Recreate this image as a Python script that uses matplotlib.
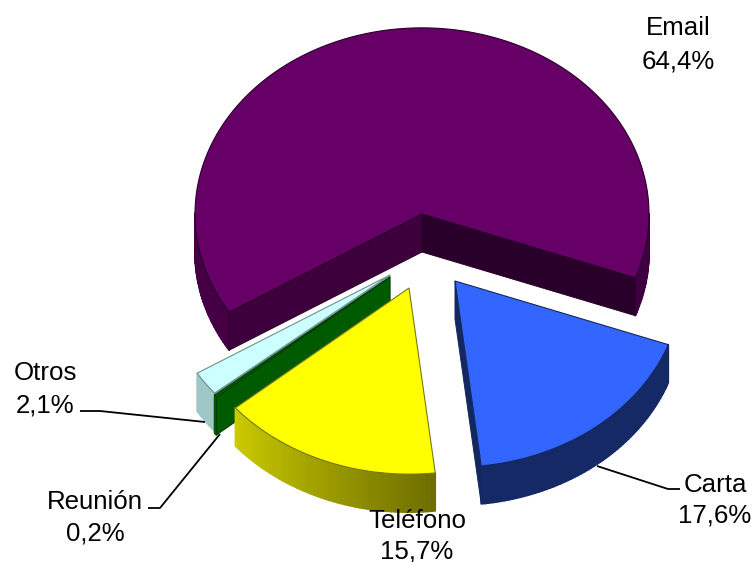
import numpy as np
import matplotlib
matplotlib.use("Agg")
import matplotlib.pyplot as plt

# ── Data ──────────────────────────────────────────────────────────────────────

LABELS = ["Email", "Otros", "Reunión", "Teléfono", "Carta"]
SHARES = [64.4, 2.1, 0.2, 15.7, 17.6]
SHARE_TEXT = ["64,4%", "2,1%", "0,2%", "15,7%", "17,6%"]

# ── Style and layout (pixel coordinates of the picture) ───────────────────────

W, H = 755, 562
CENTRE = (422, 214)
RX = 227
SQUASH = 0.82
DEPTH = 38
START_ANGLE = -20

TOP_COLOURS = ["#660066", "#CCFFFF", "#006600", "#FFFF00", "#3366FF"]
EDGE_COLOURS = ["#2a002a", "#6f8f8f", "#003c00", "#77771f", "#14285f"]
# how far each slice is pulled out of the pie
OFFSETS = [(0, 0), (-32, 61), (-32, 63), (-13, 74), (33, 67)]
# wall brightness at the low and high angle of the slice
WALL_SHADE = [(0.62, 0.68), (0.78, 0.78), (0.85, 0.85), (0.8, 0.43), (0.4, 0.4)]
# brightness of the cut faces at the start and the end of the slice
FACE_SHADE = [(0.4, 0.6), (0.7, 0.7), (0.88, 0.88), (0.4, 0.4), (0.38, 0.38)]
DRAW_ORDER = [0, 1, 2, 4, 3]

# x centre, baseline of the name, baseline of the share
TEXT_POS = [(678, 35, 68), (45, 380, 413), (95, 509, 541), (417, 528, 558), (715, 492, 523)]
LEADERS = {
    "Otros": [(80, 411), (100, 411), (205, 422)],
    "Reunión": [(148, 508), (160, 508), (220, 434)],
    "Carta": [(597, 466), (668, 489), (680, 489)],
}

plt.rcParams["font.family"] = ["Liberation Sans", "DejaVu Sans"]


def shaded(colour, factor):
    rgb = np.array(matplotlib.colors.to_rgb(colour))
    return tuple(rgb * factor)


def rim(cx, cy, angles, drop=0):
    rad = np.radians(angles)
    return cx + RX * np.cos(rad), cy - RX * SQUASH * np.sin(rad) + drop


def draw_face(ax, cx, cy, angle, colour, edge):
    x, y = rim(cx, cy, np.array([angle]))
    xs = [cx, x[0], x[0], cx]
    ys = [cy, y[0], y[0] + DEPTH, cy + DEPTH]
    ax.fill(xs, ys, facecolor=colour, edgecolor=edge, linewidth=0.7)


def draw_wall(ax, cx, cy, a0, a1, colour, shades):
    # outer wall cut into thin strips, only the part facing the viewer
    steps = max(2, int(a1 - a0))
    edges = np.linspace(a0, a1, steps + 1)
    for a, b in zip(edges[:-1], edges[1:]):
        mid = (a + b) / 2
        if np.sin(np.radians(mid)) >= 0:
            continue
        t = (mid - a0) / (a1 - a0)
        tone = shaded(colour, shades[0] + t * (shades[1] - shades[0]))
        x, y = rim(cx, cy, np.array([a, b]))
        ax.fill([x[0], x[1], x[1], x[0]],
                [y[0], y[1], y[1] + DEPTH, y[0] + DEPTH],
                facecolor=tone, edgecolor=tone, linewidth=1.2, joinstyle="round")


def draw_slice(ax, i, a0, a1):
    cx = CENTRE[0] + OFFSETS[i][0]
    cy = CENTRE[1] + OFFSETS[i][1]
    colour = TOP_COLOURS[i]
    edge = EDGE_COLOURS[i]

    draw_wall(ax, cx, cy, a0, a1, colour, WALL_SHADE[i])

    # cut faces, each one shows only if it turns towards the viewer
    if np.cos(np.radians(a0)) > 0:
        draw_face(ax, cx, cy, a0, shaded(colour, FACE_SHADE[i][0]), edge)
    if np.cos(np.radians(a1)) < 0:
        draw_face(ax, cx, cy, a1, shaded(colour, FACE_SHADE[i][1]), edge)

    angles = np.linspace(a0, a1, 200)
    x, y = rim(cx, cy, angles)
    ax.fill(np.r_[cx, x], np.r_[cy, y], facecolor=colour, edgecolor=edge, linewidth=0.8)


fig = plt.figure(figsize=(W / 100, H / 100), dpi=100)
ax = fig.add_axes([0, 0, 1, 1])
ax.set_xlim(0, W)
ax.set_ylim(H, 0)
ax.axis("off")

# angles follow the shares, counter-clockwise from the start of Email
sweeps = np.array(SHARES) / sum(SHARES) * 360
ends = START_ANGLE + np.cumsum(sweeps)
starts = ends - sweeps

for i in DRAW_ORDER:
    draw_slice(ax, i, starts[i], ends[i])

for pts in LEADERS.values():
    xs, ys = zip(*pts)
    ax.plot(xs, ys, color="black", linewidth=1.3, solid_capstyle="butt")

for label, share, (x, y1, y2) in zip(LABELS, SHARE_TEXT, TEXT_POS):
    ax.text(x, y1, label, ha="center", va="baseline", fontsize=18.6, color="black", zorder=10)
    ax.text(x, y2, share, ha="center", va="baseline", fontsize=18.6, color="black", zorder=10)

plt.savefig("out.png", dpi=100)
plt.close()
